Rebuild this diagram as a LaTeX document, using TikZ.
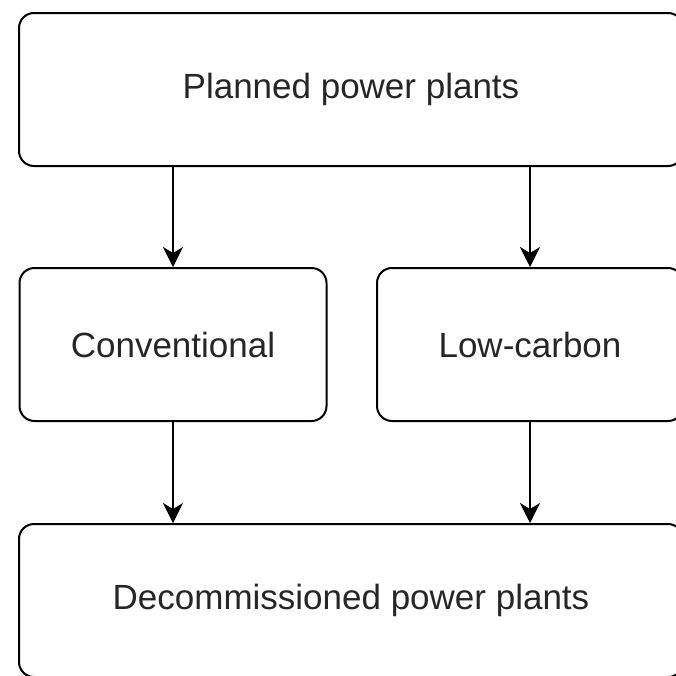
\documentclass[tikz,border=0pt]{standalone}
\usepackage{fontspec}
\setmainfont{Liberation Sans}
\usetikzlibrary{arrows.meta}
\begin{document}
\begin{tikzpicture}[x=1pt,y=-1pt,
  box/.style={draw=black,line width=2pt,rounded corners=15pt,inner sep=0pt,
    font=\fontsize{35}{42}\selectfont,text=black!85},
  arr/.style={draw=black,line width=2pt,-{Stealth[length=20pt,width=20pt,inset=6pt]}}]
\useasboundingbox (0,0) rectangle (676,675);
\clip (0,0) rectangle (676,675);
\node[box,minimum width=664pt,minimum height=153pt] (top) at (351,89.5) {Planned power plants};
\node[box,minimum width=307pt,minimum height=153pt] (conv) at (173,344.5) {Conventional};
\node[box,minimum width=306pt,minimum height=153pt] (low) at (530,344.5) {Low-carbon};
\node[box,minimum width=664pt,minimum height=153pt] (dec) at (351,600.5) {Decommissioned power plants};
\draw[arr] (top.south -| conv.north) -- (conv.north);
\draw[arr] (top.south -| low.north) -- (low.north);
\draw[arr] (conv.south) -- (dec.north -| conv.south);
\draw[arr] (low.south) -- (dec.north -| low.south);
\end{tikzpicture}
\end{document}
